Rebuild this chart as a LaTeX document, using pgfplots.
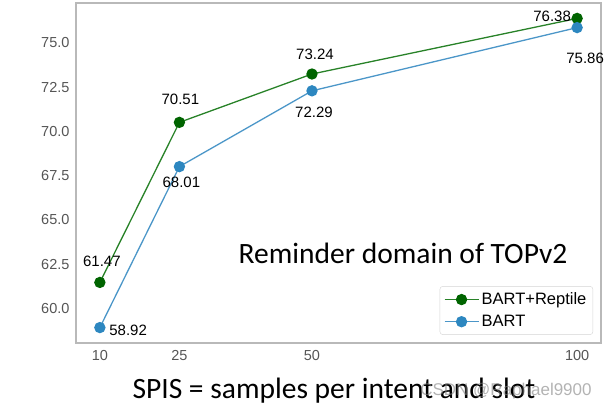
\documentclass[border=0pt]{standalone}
\usepackage{pgfplots}
\pgfplotsset{compat=1.18}
\usepackage{fontspec}
\setmainfont{Liberation Sans}
\newfontfamily\calibri{Carlito}
\definecolor{gline}{RGB}{40,130,40}
\definecolor{gmark}{RGB}{0,100,0}
\definecolor{bline}{RGB}{75,150,200}
\definecolor{bmark}{RGB}{45,135,192}
\definecolor{framegray}{RGB}{185,185,185}
\definecolor{ticklab}{RGB}{85,85,85}
\begin{document}
\begin{tikzpicture}[x=1pt,y=1pt]
\useasboundingbox (0,0) rectangle (616,412);
\begin{axis}[
  at={(76pt,69pt)}, anchor=south west,
  scale only axis, width=525pt, height=340pt,
  xmin=5.5, xmax=104.5, ymin=58.05, ymax=77.25,
  xtick={10,25,50,100}, xticklabels={10,25,50,100},
  ytick={60,62.5,65,67.5,70,72.5,75},
  yticklabel style={xshift=-3pt, /pgf/number format/fixed, /pgf/number format/fixed zerofill, /pgf/number format/precision=1},
  /pgf/number format/assume math mode=true,
  axis line style={framegray, line width=1.2pt},
  major tick length=0pt,
  tick label style={font=\fontsize{14.5}{14.5}\selectfont, text=ticklab},
  xticklabel style={yshift=-4pt},
  legend style={at={(0.985,0.024)}, anchor=south east, draw=framegray!60, rounded corners=3pt,
    font=\fontsize{16.5}{18}\selectfont, fill=white, inner sep=4pt, row sep=4pt,
    nodes={inner sep=2.5pt}},
  legend cell align=left,
  legend image code/.code={\draw[mark repeat=2,mark phase=2,#1] plot coordinates {(0pt,0pt)(17pt,0pt)(34pt,0pt)};},
  clip=false,
]
\addplot[gline, line width=1.3pt, mark=*, mark size=5pt, mark options={fill=gmark, draw=gmark}]
  coordinates {(10,61.47)(25,70.51)(50,73.24)(100,76.38)};
\addlegendentry{BART+Reptile}
\addplot[bline, line width=1.3pt, mark=*, mark size=5pt, mark options={fill=bmark, draw=bmark}]
  coordinates {(10,58.92)(25,68.01)(50,72.29)(100,75.86)};
\addlegendentry{BART}
\begin{scope}[every node/.style={font=\fontsize{15}{15}\selectfont, text=black}]
\node at (axis cs:10,61.47) [xshift=2pt, yshift=21pt] {61.47};
\node[anchor=west] at (axis cs:10,58.92) [xshift=6pt, yshift=-3pt] {58.92};
\node at (axis cs:25,70.51) [xshift=1pt, yshift=23pt] {70.51};
\node at (axis cs:25,68.01) [xshift=2pt, yshift=-16pt] {68.01};
\node at (axis cs:50,73.24) [xshift=3pt, yshift=20pt] {73.24};
\node at (axis cs:50,72.29) [xshift=2pt, yshift=-22pt] {72.29};
\node at (axis cs:100,76.38) [xshift=-25pt, yshift=2pt] {76.38};
\node at (axis cs:100,75.86) [xshift=8pt, yshift=-31pt] {75.86};
\end{scope}
\end{axis}
\node[font=\calibri\fontsize{29.5}{30}\selectfont] at (403,159) {Reminder domain of TOPv2};
\node[font=\calibri\fontsize{29.5}{30}\selectfont, anchor=base] at (334,13) {SPIS = samples per intent and slot};
\node[font=\fontsize{17}{17}\selectfont, text=gray, opacity=0.6, anchor=base] at (506,16) {CSDN @Raphael9900};
\end{tikzpicture}
\end{document}
